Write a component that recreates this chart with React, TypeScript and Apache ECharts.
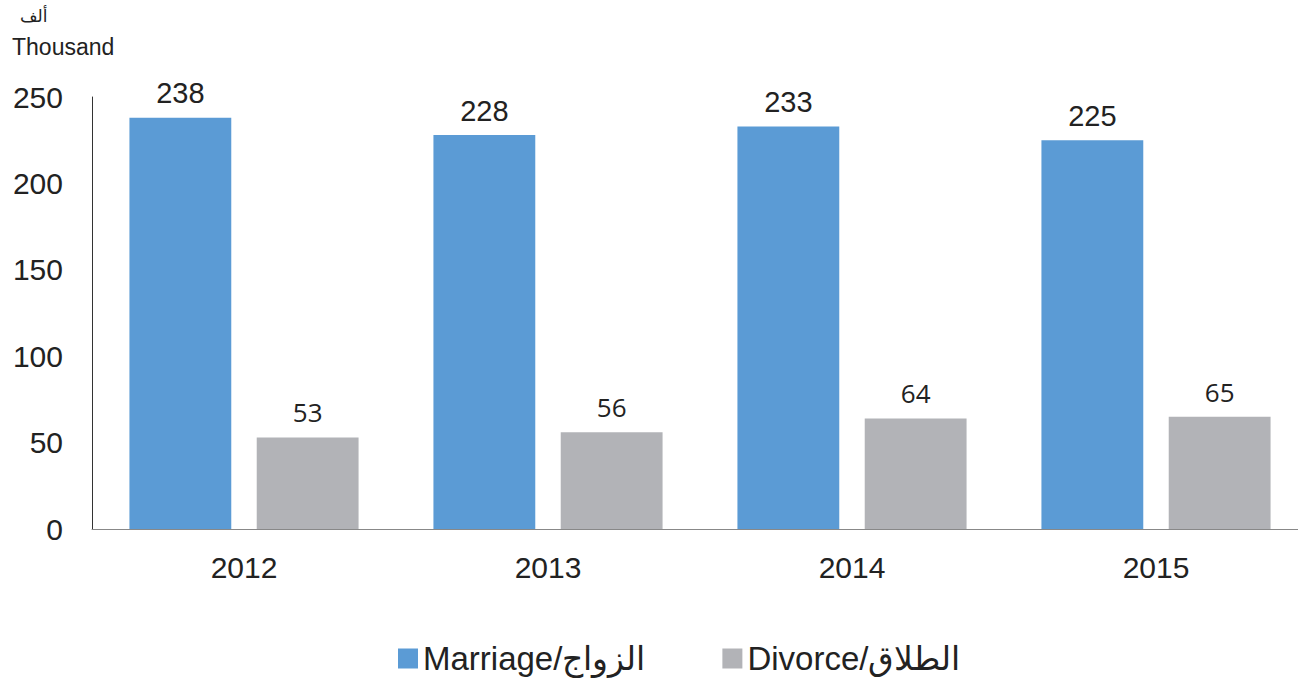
import React, { useEffect, useRef } from "react";
import * as echarts from "echarts";

const years = ["2012", "2013", "2014", "2015"];
const marriage = [238, 228, 233, 225];
const divorce = [53, 56, 64, 65];
const yTicks = { min: 0, max: 250, interval: 50 };
const unitAr = "ألف";
const unitEn = "Thousand";
const marriageName = "Marriage/الزواج";
const divorceName = "Divorce/الطلاق";

export default function App() {
  const ref = useRef<HTMLDivElement>(null);
  useEffect(() => {
    const chart = echarts.init(ref.current!, null, { renderer: "svg" });
    const font = "'Liberation Sans', Arial, sans-serif";
    chart.setOption({
      animation: false,
      textStyle: { fontFamily: font },
      graphic: [
        {
          type: "text",
          left: 20,
          top: 7,
          style: { text: unitAr, fontSize: 17, fill: "#222", fontFamily: "'Noto Sans', 'DejaVu Sans', sans-serif" },
        },
        {
          type: "text",
          left: 12,
          top: 35,
          style: { text: unitEn, fontSize: 23, fill: "#222", fontFamily: font },
        },
      ],
      legend: {
        bottom: 4,
        left: 393,
        itemWidth: 20,
        itemHeight: 20,
        itemGap: 77,
        icon: "rect",
        textStyle: { fontSize: 33, color: "#222", fontFamily: font },
        data: [marriageName, divorceName],
      },
      grid: { left: 92, right: 0, top: 97, bottom: 155, containLabel: false },
      xAxis: {
        type: "category",
        data: years,
        axisLine: { show: true, lineStyle: { color: "#888", width: 1 } },
        axisTick: { show: false },
        axisLabel: { fontSize: 30, color: "#222", margin: 23, fontFamily: font },
      },
      yAxis: {
        type: "value",
        min: yTicks.min,
        max: yTicks.max,
        interval: yTicks.interval,
        axisLine: { show: true, lineStyle: { color: "#333", width: 1 } },
        axisTick: { show: false },
        splitLine: { show: false },
        axisLabel: { fontSize: 30, color: "#222", margin: 29, fontFamily: font },
      },
      series: [
        {
          name: marriageName,
          type: "bar",
          data: marriage,
          barWidth: "33.5%",
          barGap: "25%",
          itemStyle: { color: "#5B9BD5" },
          label: {
            show: true,
            position: "top",
            distance: 10,
            fontSize: 29,
            color: "#222",
            fontFamily: font,
          },
        },
        {
          name: divorceName,
          type: "bar",
          data: divorce,
          barWidth: "33.5%",
          itemStyle: { color: "#B2B3B7" },
          label: {
            show: true,
            position: "top",
            distance: 12,
            fontSize: 26,
            color: "#222",
            fontFamily: "'Open Sans', sans-serif",
          },
        },
      ],
    });
    return () => chart.dispose();
  }, []);
  return (
    <div style={{ position: "fixed", left: 0, top: 0, width: 1298, height: 684, overflow: "hidden", background: "#fff" }}>
      <div ref={ref} style={{ position: "absolute", left: 0, top: 0, width: 1308, height: 684 }} />
    </div>
  );
}
